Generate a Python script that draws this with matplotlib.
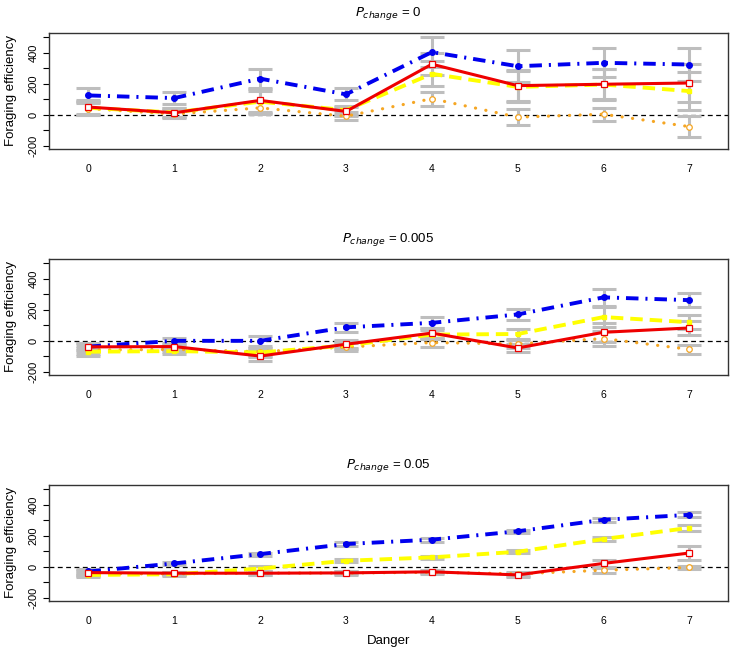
import matplotlib
matplotlib.use("Agg")
import matplotlib.pyplot as plt
import numpy as np

plt.rcParams['font.family'] = ['Liberation Sans', 'DejaVu Sans']
plt.rcParams['lines.scale_dashes'] = False

danger = [0, 1, 2, 3, 4, 5, 6, 7]
titles = [r"$P_{change}$ = 0", r"$P_{change}$ = 0.005", r"$P_{change}$ = 0.05"]

# Panel 1: P_change = 0
p1_blue = [125, 108, 233, 132, 404, 313, 335, 324]
p1_red = [50, 13, 93, 22, 326, 188, 197, 205]
p1_yellow = [45, 15, 85, 30, 264, 180, 195, 153]
p1_orange = [40, 5, 45, -9, 104, -15, 4, -76]
p1_blue_err = [50, 38, 62, 38, 95, 104, 93, 104]
p1_red_err = [45, 30, 75, 30, 70, 100, 97, 125]
p1_yellow_err = [45, 30, 70, 30, 80, 100, 97, 120]
p1_orange_err = [40, 25, 40, 25, 44, 50, 43, 69]

# Panel 2: P_change = 0.005
p2_blue = [-37, 0, 0, 87, 116, 170, 280, 262]
p2_red = [-39, -37, -98, -22, 50, -46, 55, 83]
p2_yellow = [-70, -66, -75, -30, 40, 44, 153, 120]
p2_orange = [-60, -55, -70, -40, -11, -20, 15, -55]
p2_blue_err = [25, 20, 33, 30, 35, 35, 55, 45]
p2_red_err = [25, 20, 30, 25, 30, 25, 60, 45]
p2_yellow_err = [25, 20, 30, 25, 30, 35, 65, 45]
p2_orange_err = [25, 20, 25, 25, 30, 25, 50, 30]

# Panel 3: P_change = 0.05
p3_blue = [-30, 22, 82, 147, 175, 229, 303, 335]
p3_red = [-37, -41, -41, -39, -32, -52, 22, 89]
p3_yellow = [-52, -48, -11, 39, 61, 97, 179, 251]
p3_orange = [-45, -45, -40, -40, -35, -45, -22, -4]
p3_blue_err = [15, 10, 10, 10, 12, 10, 12, 15]
p3_red_err = [15, 10, 12, 10, 10, 15, 20, 45]
p3_yellow_err = [15, 10, 15, 10, 12, 10, 15, 20]
p3_orange_err = [15, 10, 12, 10, 10, 12, 15, 12]

panels = [
    (p1_blue, p1_red, p1_yellow, p1_orange, p1_blue_err, p1_red_err, p1_yellow_err, p1_orange_err),
    (p2_blue, p2_red, p2_yellow, p2_orange, p2_blue_err, p2_red_err, p2_yellow_err, p2_orange_err),
    (p3_blue, p3_red, p3_yellow, p3_orange, p3_blue_err, p3_red_err, p3_yellow_err, p3_orange_err),
]

W, H = 731, 651
fig = plt.figure(figsize=(W / 100, H / 100), dpi=100)

left, right = 49 / W, 728 / W
tops = [33, 259, 485]
ph = 116

grey = '#bebebe'
for k, (blue, red, yellow, orange, be, re, ye, oe) in enumerate(panels):
    ax = fig.add_axes([left, 1 - (tops[k] + ph) / H, right - left, ph / H])
    ax.set_xlim(-0.46, 7.45)
    ax.set_ylim(-220, 527)
    ax.axhline(0, color='black', lw=0.9, ls=(0, (3.5, 2.5)), zorder=1)
    for vals, errs in [(orange, oe), (yellow, ye), (blue, be), (red, re)]:
        ax.errorbar(danger, vals, yerr=errs, fmt='none', ecolor=grey,
                    elinewidth=2.2, capsize=8.5, capthick=2.2, zorder=2)
    ax.plot(danger, orange, color='#f5a623', lw=2.3, dashes=(0.1, 7.5),
            dash_capstyle='round', marker='o', ms=4, mfc='white', mec='#f5a623',
            mew=0.9, zorder=3)
    ax.plot(danger, yellow, color='#ffff00', lw=2.8, dashes=(9, 5),
            marker='s', ms=3.5, mfc='#ffff00', mec='#ffff00', zorder=4)
    ax.plot(danger, blue, color='#0000ee', lw=2.8, dashes=(9, 5, 1.5, 5),
            marker='o', ms=4, mfc='#0000ee', mec='#0000ee', zorder=5)
    ax.plot(danger, red, color='#ee0000', lw=2.2, marker='s', ms=4,
            mfc='white', mec='#ee0000', mew=0.9, zorder=6)

    ax.set_yticks(np.arange(-200, 501, 100))
    ax.set_yticklabels(['-200', '', '0', '', '200', '', '400', ''],
                       rotation=90, va='center', fontsize=8)
    ax.tick_params(axis='y', length=4.5, width=0.8, pad=3)
    ax.set_xticks(danger)
    ax.set_xticklabels([str(d) for d in danger], fontsize=7.5)
    ax.tick_params(axis='x', length=0, pad=11)
    for s in ax.spines.values():
        s.set_linewidth(1.0)
        s.set_color('#333333')
    ax.set_ylabel('Foraging efficiency', fontsize=9.5, labelpad=8)
    ax.set_title(titles[k], fontsize=9.5, pad=12)
    if k == 2:
        ax.set_xlabel('Danger', fontsize=9.5, labelpad=6)

fig.savefig('out.png', dpi=100)
